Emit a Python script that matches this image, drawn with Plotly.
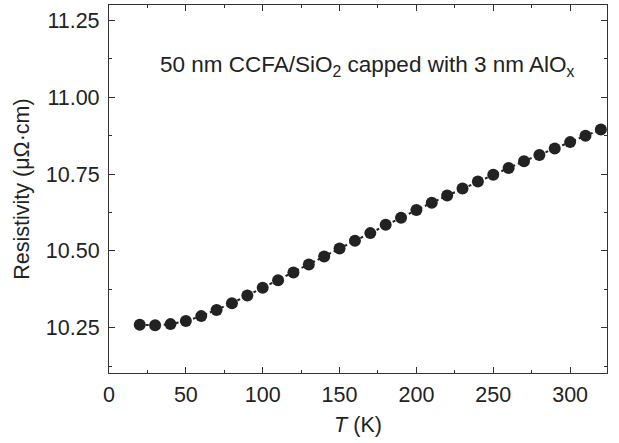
import plotly.graph_objects as go

temperature_K = [20, 30, 40, 50, 60, 70, 80, 90, 100, 110, 120, 130, 140, 150, 160,
                 170, 180, 190, 200, 210, 220, 230, 240, 250, 260, 270, 280, 290, 300, 310, 320]
resistivity = [10.260, 10.258, 10.262, 10.272, 10.288, 10.308, 10.330, 10.355, 10.380,
               10.405, 10.430, 10.456, 10.482, 10.508, 10.533, 10.558, 10.585, 10.608,
               10.633, 10.657, 10.680, 10.703, 10.726, 10.748, 10.770, 10.792, 10.812,
               10.833, 10.854, 10.875, 10.895]
x_ticks = [0, 50, 100, 150, 200, 250, 300]
y_ticks = [10.25, 10.50, 10.75, 11.00, 11.25]
y_tick_labels = ["10.25", "10.50", "10.75", "11.00", "11.25"]

fig = go.Figure()
fig.add_trace(go.Scatter(
    x=temperature_K, y=resistivity, mode="lines+markers",
    line=dict(color="#222222", width=2, dash="dot"),
    marker=dict(color="#222222", size=12),
    showlegend=False,
))

font_family = "Liberation Sans, Arial, sans-serif"
axis_common = dict(
    showline=True, linecolor="#333333", linewidth=1.2, mirror="ticks",
    ticks="inside", ticklen=6, tickwidth=1, tickcolor="#333333",
    showgrid=False, zeroline=False, automargin=False,
    tickfont=dict(family=font_family, size=21.5, color="#222222"),
)

fig.update_layout(
    width=619, height=443,
    margin=dict(l=109, r=12, t=5, b=70),
    paper_bgcolor="white", plot_bgcolor="white",
    font=dict(family=font_family, color="#222222"),
    xaxis=dict(range=[0, 324], tickvals=x_ticks, ticklabelstandoff=2,
               minor=dict(dtick=25, tick0=0, ticks="inside", ticklen=3, tickcolor="#333333"),
               title=dict(text="<i>T</i> (K)", font=dict(size=21.5), standoff=11),
               **axis_common),
    yaxis=dict(range=[10.103, 11.30], tickvals=y_ticks, ticktext=y_tick_labels,
               ticklabelstandoff=4,
               minor=dict(dtick=0.125, tick0=10.0, ticks="inside", ticklen=3, tickcolor="#333333"),
               title=dict(text="Resistivity (μΩ·cm)", font=dict(size=21.5), standoff=10),
               **axis_common),
)

fig.add_annotation(
    x=0.518, y=0.878, xref="paper", yref="paper", showarrow=False,
    text="50 nm CCFA/SiO<sub>2</sub> capped with 3 nm AlO<sub>x</sub>",
    font=dict(family=font_family, size=22.5, color="#222222"),
)

fig.write_html("out.html", config={"displayModeBar": False},
               post_script="document.body.style.margin='0';")
